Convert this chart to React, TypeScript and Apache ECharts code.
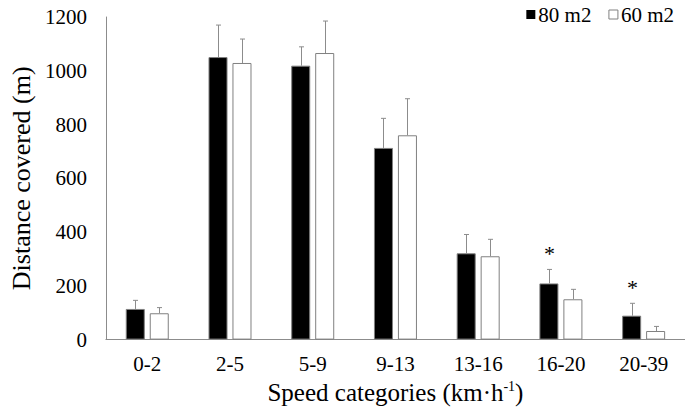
import React, { useEffect, useRef } from "react";
import * as echarts from "echarts";

const categories = ["0-2", "2-5", "5-9", "9-13", "13-16", "16-20", "20-39"];
const mean80 = [114, 1051, 1019, 713, 321, 209, 89];
const sd80 = [32, 119, 70, 110, 70, 52, 46];
const mean60 = [98, 1029, 1066, 760, 310, 150, 32];
const sd60 = [21, 89, 119, 136, 63, 37, 17];
const sig80 = ["", "", "", "", "", "*", "*"];
const yTicks = [0, 200, 400, 600, 800, 1000, 1200];

const FONT = "'Liberation Serif', 'Times New Roman', serif";
const BAR_W = 0.23;
const BAR_GAP = 0.26;

function errorSeries(name: string, means: number[], sds: number[], side: number, sig: string[] | null) {
  return {
    type: "custom",
    name: name + " err",
    silent: true,
    z: 3,
    encode: { x: 0, y: 1 },
    data: means.map((m, i) => [i, m, sds[i]]),
    renderItem: (params: any, api: any) => {
      const idx = api.value(0);
      const mean = api.value(1);
      const sd = api.value(2);
      const band = api.size([1, 0])[0];
      const w = band * BAR_W;
      const gap = w * BAR_GAP;
      const off = side * (w + gap) / 2;
      const b = api.coord([idx, mean]);
      const t = api.coord([idx, mean + sd]);
      const x = Math.round(b[0] + off) + 0.5;
      const children: any[] = [
        { type: "line", shape: { x1: x, y1: b[1], x2: x, y2: t[1] }, style: { stroke: "#8c8c8c", lineWidth: 1 } },
        { type: "line", shape: { x1: x - 2.5, y1: t[1], x2: x + 2.5, y2: t[1] }, style: { stroke: "#8c8c8c", lineWidth: 1 } },
      ];
      if (sig && sig[idx]) {
        children.push({
          type: "text",
          style: { text: sig[idx], x: x, y: t[1] - 5, align: "center", verticalAlign: "bottom", fontFamily: FONT, fontSize: 22, fill: "#000" },
        });
      }
      return { type: "group", children };
    },
  };
}

export default function App() {
  const ref = useRef<HTMLDivElement>(null);
  useEffect(() => {
    if (!ref.current) return;
    const chart = echarts.init(ref.current, null, { renderer: "svg" });
    chart.setOption({
      animation: false,
      textStyle: { fontFamily: FONT, color: "#000" },
      legend: {
        right: 6,
        top: -1,
        itemWidth: 9,
        itemHeight: 9,
        itemGap: 17,
        icon: "rect",
        textStyle: { fontFamily: FONT, fontSize: 21, color: "#000", padding: [0, 0, 0, -2] },
        data: [
          { name: "80 m2", itemStyle: { color: "#000", borderWidth: 0 } },
          { name: "60 m2", itemStyle: { color: "#fff", borderColor: "#808080", borderWidth: 1 } },
        ],
      },
      grid: { left: 93, right: 0, top: 17, bottom: 68, containLabel: false },
      xAxis: {
        type: "category",
        data: categories,
        axisLine: { lineStyle: { color: "#8c8c8c", width: 1 } },
        axisTick: { show: false },
        axisLabel: { fontFamily: FONT, fontSize: 21, color: "#000", margin: 14 },
        name: "{a|Speed categories (km·h}{s|-1}{a|)}",
        nameLocation: "middle",
        nameGap: 33,
        nameTextStyle: {
          rich: {
            a: { fontFamily: FONT, fontSize: 25, color: "#000", lineHeight: 26 },
            s: { fontFamily: FONT, fontSize: 14, color: "#000", lineHeight: 14, verticalAlign: "top" },
          },
        },
      },
      yAxis: {
        type: "value",
        min: yTicks[0],
        max: yTicks[yTicks.length - 1],
        interval: 200,
        splitLine: { show: false },
        axisLine: { show: true, lineStyle: { color: "#8c8c8c", width: 1 } },
        axisTick: { show: false },
        axisLabel: { fontFamily: FONT, fontSize: 21, color: "#000", margin: 19, formatter: (v: number) => String(v) },
        name: "Distance covered (m)",
        nameLocation: "middle",
        nameGap: 68,
        nameTextStyle: { fontFamily: FONT, fontSize: 26, color: "#000" },
      },
      series: [
        {
          type: "bar",
          name: "80 m2",
          data: mean80,
          barWidth: (BAR_W * 100) + "%",
          barGap: (BAR_GAP * 100) + "%",
          itemStyle: { color: "#000", borderColor: "#808080", borderWidth: 1 },
        },
        {
          type: "bar",
          name: "60 m2",
          data: mean60,
          barWidth: (BAR_W * 100) + "%",
          barGap: (BAR_GAP * 100) + "%",
          itemStyle: { color: "#fff", borderColor: "#808080", borderWidth: 1 },
        },
        errorSeries("80 m2", mean80, sd80, -1, sig80),
        errorSeries("60 m2", mean60, sd60, 1, null),
      ],
    });
    return () => chart.dispose();
  }, []);
  return <div ref={ref} style={{ width: 685, height: 410, position: "absolute", left: 0, top: 0 }} />;
}
